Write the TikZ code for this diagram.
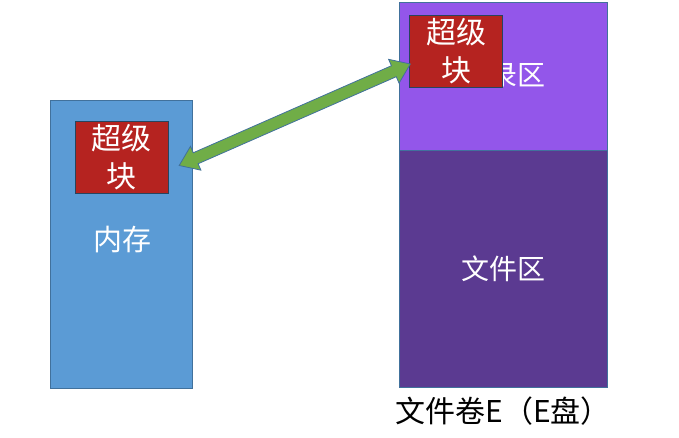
\documentclass[tikz,border=0pt]{standalone}
\usepackage{fontspec}
\setmainfont{Noto Sans CJK SC}
\usetikzlibrary{positioning, calc}

\definecolor{memblue}{HTML}{5B9BD5}
\definecolor{edgeblue}{HTML}{41719C}
\definecolor{sbred}{HTML}{B52320}
\definecolor{dirpurple}{HTML}{9356EA}
\definecolor{filepurple}{HTML}{5B3A91}
\definecolor{arrgreen}{HTML}{70AD47}

\begin{document}
\begin{tikzpicture}[
    x=1pt, y=-1pt,
    areabox/.style={rectangle, draw=edgeblue, line width=0.6pt, inner sep=0pt, text=white, font=\fontsize{28pt}{34pt}\selectfont},
    sbbox/.style={rectangle, fill=sbred, draw=edgeblue!60!black, line width=0.4pt, minimum width=93pt, minimum height=72pt, inner sep=0pt, align=center, text=white, font=\fontsize{30pt}{38pt}\selectfont},
]
\useasboundingbox (0,0) rectangle (679,438);

% memory
\node[areabox, fill=memblue, minimum width=142pt, minimum height=288pt] (mem) at (121, 244) {};
\node[text=white, font=\fontsize{29pt}{34pt}\selectfont] (memtext) at (122, 240) {内存};
\node[sbbox] (memsb) at (121.5, 157.5) {超级\\块};

% file volume E
\node[areabox, fill=dirpurple, minimum width=208pt, minimum height=148pt] (voldir) at (503, 76) {目录区};
\node[areabox, fill=filepurple, minimum width=208pt, minimum height=237pt, below=0pt of voldir] (volfile) {文件区};
\node[sbbox] (volsb) at (456, 51) {超级\\块};
\node[below=5pt of volfile, font=\fontsize{30pt}{34pt}\selectfont] (volname) {文件卷E（E盘）};

% double arrow between the two superblocks
\coordinate (tipL) at ($(memsb.east)+(11,8)$);
\coordinate (tipR) at ($(volsb.west)+(1,13)$);
\draw[fill=arrgreen, draw=edgeblue, line width=0.8pt, line join=miter]
    (tipL)
 -- ($(tipL)!18pt!(tipR)!13pt!90:(tipR)$)
 -- ($(tipL)!18pt!(tipR)!6pt!90:(tipR)$)
 -- ($(tipR)!18pt!(tipL)!6pt!-90:(tipL)$)
 -- ($(tipR)!18pt!(tipL)!13pt!-90:(tipL)$)
 -- (tipR)
 -- ($(tipR)!18pt!(tipL)!13pt!90:(tipL)$)
 -- ($(tipR)!18pt!(tipL)!6pt!90:(tipL)$)
 -- ($(tipL)!18pt!(tipR)!6pt!-90:(tipR)$)
 -- ($(tipL)!18pt!(tipR)!13pt!-90:(tipR)$)
 -- cycle;

\end{tikzpicture}
\end{document}
